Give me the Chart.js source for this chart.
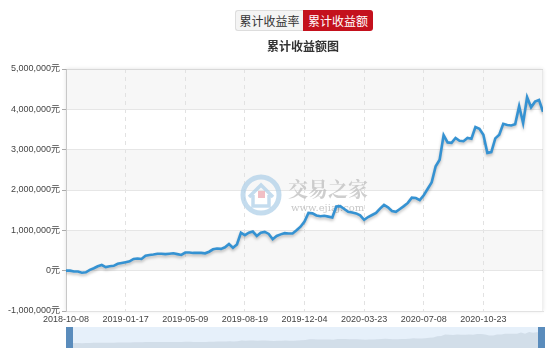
<!DOCTYPE html>
<html><head><meta charset="utf-8">
<script src="https://cdn.jsdelivr.net/npm/chart.js@4.4.1/dist/chart.umd.min.js"></script>
<style>
html,body{margin:0;padding:0;background:#fff;}
#wrap{position:relative;width:560px;height:358px;overflow:hidden;font-family:'Noto Sans CJK SC',sans-serif;}
#main{position:absolute;left:0;top:0;}
#navbox{position:absolute;left:66px;top:327px;width:479px;height:21px;background:#e6f0fa;}
#nav{position:absolute;left:0;top:0;}
.h{position:absolute;top:327px;width:7px;height:21px;background:#5a8cbc;}
.btn{position:absolute;top:10px;height:21px;line-height:21px;font-size:12px;text-align:center;box-sizing:border-box;}
.b1{left:235px;width:68px;border:1px solid #ddd;border-right:none;background:#f4f4f4;color:#333;line-height:19px;border-radius:3px 0 0 3px;}
.b2{left:303px;width:70px;background:#c4111d;color:#fff;border-radius:0 3px 3px 0;}
.title{position:absolute;top:37px;left:0;width:606px;text-align:center;font-weight:bold;font-size:12px;color:#333;}
</style></head>
<body>
<div id="wrap">
  <canvas id="main" width="560" height="358"></canvas>
  <div class="btn b1">累计收益率</div>
  <div class="btn b2">累计收益额</div>
  <div class="title">累计收益额图</div>
  <div id="navbox"><canvas id="nav" width="479" height="21"></canvas></div>
  <div class="h" style="left:66px"></div>
  <div class="h" style="left:538px"></div>
</div>
<script>
// tick labels (dates) on the x axis
const tickLabels = ['2018-10-08','2019-01-17','2019-05-09','2019-08-19','2019-12-04','2020-03-23','2020-07-08','2020-10-23'];
const labelEvery = 15; // samples between labelled dates
// cumulative profit (元), sampled along the period
const values = [
  0, 0, -20000, -20000, -50000, -40000, 20000, 60000, 110000, 140000,
  90000, 110000, 120000, 170000, 190000, 210000, 230000, 290000, 300000, 290000,
  370000, 390000, 400000, 420000, 420000, 410000, 420000, 430000, 410000, 390000,
  450000, 450000, 440000, 440000, 440000, 430000, 470000, 530000, 550000, 540000,
  580000, 660000, 570000, 650000, 940000, 880000, 940000, 970000, 860000, 940000,
  960000, 910000, 780000, 860000, 900000, 930000, 920000, 920000, 1000000, 1090000,
  1220000, 1430000, 1420000, 1370000, 1350000, 1360000, 1340000, 1320000, 1590000, 1600000,
  1530000, 1460000, 1440000, 1420000, 1370000, 1260000, 1330000, 1380000, 1430000, 1540000,
  1630000, 1570000, 1480000, 1460000, 1530000, 1600000, 1680000, 1810000, 1800000, 1750000,
  1870000, 2030000, 2190000, 2590000, 2750000, 3360000, 3180000, 3170000, 3290000, 3220000,
  3210000, 3290000, 3270000, 3560000, 3520000, 3370000, 2920000, 2940000, 3280000, 3370000,
  3640000, 3610000, 3600000, 3630000, 4080000, 3660000, 4300000, 4050000, 4190000, 4230000,
  3940000
];
const sampleIndex = values.map((v, i) => i);
const yMin = -1000000, yMax = 5000000, yStep = 1000000;

const points = values.map((v, i) => ({x: sampleIndex[i], y: v}));

const bgPlugin = {
  id: 'bg',
  beforeDraw(chart) {
    const {ctx, chartArea: a, scales: {y}} = chart;
    ctx.save();
    ctx.shadowColor = 'rgba(0,0,0,0.12)';
    ctx.shadowBlur = 4;
    ctx.fillStyle = '#fff';
    ctx.fillRect(a.left, a.top, a.right - a.left, a.bottom - a.top);
    ctx.restore();
    ctx.save();
    ctx.fillStyle = '#f7f7f7';
    for (let v = yMin; v < yMax; v += yStep) {
      const idx = Math.round((yMax - v) / yStep); // 1 at top band
      if (idx % 2 === 1) {
        const t = y.getPixelForValue(v + yStep), b = y.getPixelForValue(v);
        ctx.fillRect(a.left, t, a.right - a.left, b - t);
      }
    }
    ctx.restore();
  },
  beforeDatasetsDraw(chart) {
    const {ctx} = chart;
    ctx.save();
    // watermark logo
    ctx.strokeStyle = 'rgba(176,208,232,0.75)';
    ctx.lineWidth = 5;
    ctx.beginPath();
    ctx.arc(261, 195, 18, 0, Math.PI * 2);
    ctx.stroke();
    ctx.lineWidth = 3.5;
    ctx.beginPath();
    ctx.moveTo(249, 197); ctx.lineTo(261, 185); ctx.lineTo(273, 197);
    ctx.moveTo(253, 195); ctx.lineTo(253, 206); ctx.lineTo(269, 206); ctx.lineTo(269, 195);
    ctx.stroke();
    ctx.fillStyle = 'rgba(236,170,178,0.75)';
    ctx.fillRect(258, 191, 7, 7);
    ctx.fillStyle = 'rgba(190,190,190,0.75)';
    ctx.font = 'bold 20px "Noto Serif CJK SC", "Noto Sans CJK SC", serif';
    ctx.textBaseline = 'middle';
    ctx.fillText('交易之家', 288, 189);
    ctx.font = '10px "DejaVu Serif", serif';
    ctx.fillStyle = 'rgba(185,185,185,0.8)';
    ctx.fillText('www.ejiaj.com', 291, 208);
    ctx.restore();
  },
  beforeDatasetDraw(chart) {
    const {ctx} = chart;
    ctx.save();
    ctx.shadowColor = 'rgba(0,0,0,0.25)';
    ctx.shadowBlur = 3;
    ctx.shadowOffsetY = 2;
  },
  afterDatasetDraw(chart) {
    chart.ctx.restore();
  },
  afterDraw(chart) {
    const {ctx, chartArea: a} = chart;
    ctx.save();
    ctx.strokeStyle = 'rgba(0,0,0,0.06)';
    ctx.lineWidth = 1;
    ctx.beginPath();
    ctx.moveTo(a.left, a.top + 0.5); ctx.lineTo(a.right - 0.5, a.top + 0.5); ctx.lineTo(a.right - 0.5, a.bottom);
    ctx.stroke();
    ctx.restore();
  }
};

const lab = '"Liberation Sans", "Noto Sans CJK SC", sans-serif';

new Chart(document.getElementById('main'), {
  type: 'line',
  data: {datasets: [{
    data: points,
    borderColor: '#3592d2',
    borderWidth: 2.6,
    pointRadius: 0,
    tension: 0,
    fill: false
  }]},
  options: {
    responsive: false,
    animation: false,
    events: [],
    layout: {padding: {left: 0, right: 17, top: 69, bottom: 30}},
    plugins: {legend: {display: false}, tooltip: {enabled: false}},
    scales: {
      x: {
        type: 'linear',
        min: 0,
        max: values.length - 1,
        afterBuildTicks(scale) {
          scale.ticks = tickLabels.map((_, k) => ({value: k * labelEvery}));
        },
        afterFit(scale) { scale.height = 17; },
        ticks: {
          autoSkip: false, maxRotation: 0, padding: 3,
          color: '#444', font: {size: 9, family: lab},
          callback: (v) => tickLabels[Math.round(v / labelEvery)]
        },
        grid: {color: '#e2e2e2', drawTicks: false, lineWidth: 1},
        border: {display: true, color: '#e2e2e2', dash: [4, 4]}
      },
      y: {
        min: yMin, max: yMax,
        afterFit(scale) { scale.width = 66; },
        ticks: {
          stepSize: yStep, padding: 2, color: '#444',
          font: {size: 9, family: lab},
          callback: (v) => v.toLocaleString('en-US') + '元'
        },
        grid: {color: '#e6e6e6', tickColor: '#aaa', tickLength: 4, lineWidth: 1},
        border: {display: true, color: '#c8c8c8'}
      }
    }
  },
  plugins: [bgPlugin]
});

// data zoom preview
new Chart(document.getElementById('nav'), {
  type: 'line',
  data: {datasets: [{
    data: points,
    borderWidth: 0,
    borderColor: 'rgba(0,0,0,0)',
    backgroundColor: 'rgba(170,184,200,0.33)',
    pointRadius: 0,
    fill: 'start'
  }]},
  options: {
    responsive: false, animation: false, events: [],
    layout: {padding: 0},
    plugins: {legend: {display: false}, tooltip: {enabled: false}},
    scales: {
      x: {type: 'linear', display: false, min: 0, max: values.length - 1},
      y: {display: false, min: -1950000, max: 6250000}
    }
  }
});
</script>
</body></html>
